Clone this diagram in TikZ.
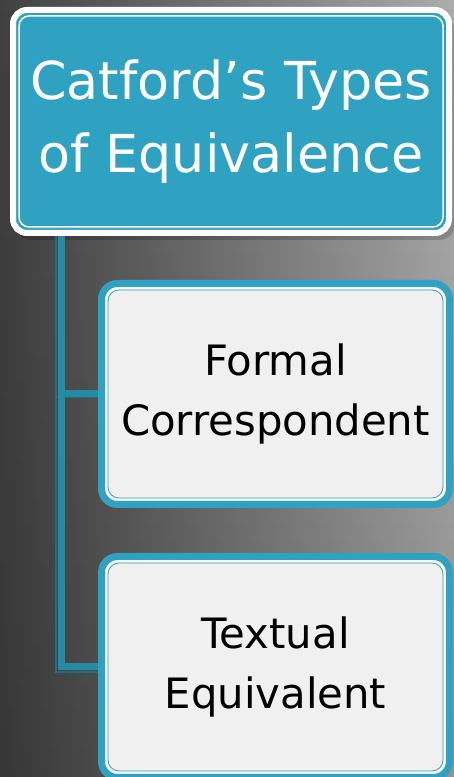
\documentclass[tikz,border=0pt]{standalone}
\usepackage{fontspec}
\setmainfont{DejaVu Sans}
\usetikzlibrary{fadings,backgrounds}
\definecolor{teal1}{RGB}{46,162,192}
\definecolor{tealdark}{RGB}{30,110,130}
\definecolor{boxfill}{RGB}{240,240,240}
\definecolor{bgdark}{RGB}{64,64,64}
\definecolor{bglight}{RGB}{172,172,172}
\tikzset{
  x=1pt, y=1pt,
  topbox/.style={draw=white, line width=6pt, fill=teal1, rounded corners=14pt,
    minimum width=436pt, minimum height=223pt, inner sep=0pt, outer sep=0pt,
    align=center, text=white, font=\fontsize{52.3}{73}\selectfont},
  childbox/.style={draw=teal1, line width=7pt, fill=boxfill, rounded corners=16pt,
    minimum width=348pt, minimum height=221pt, inner sep=0pt, outer sep=0pt,
    align=center, text=black, font=\fontsize{41.8}{60}\selectfont},
  innerline/.style={draw=white, line width=1.5pt, rounded corners=10pt},
  thinteal/.style={draw=teal1, line width=0.8pt, rounded corners=11pt},
  conn/.style={draw=teal1!85!black, line width=7pt},
  connshadow/.style={draw=tealdark, line width=2pt},
}
\begin{document}
\begin{tikzpicture}
\useasboundingbox (0,0) rectangle (454,777);
\clip (0,0) rectangle (454,777);

% top box
\node[topbox] (top) at (231,655.5) {Catford’s Types\\of Equivalence};
\draw[innerline] ([xshift=6pt,yshift=-6pt]top.north west) rectangle ([xshift=-6pt,yshift=6pt]top.south east);

% child boxes
\node[childbox] (c1) at (275.5,383) {Formal\\Correspondent};
\draw[innerline, rounded corners=12pt] ([xshift=5pt,yshift=-5pt]c1.north west) rectangle ([xshift=-5pt,yshift=5pt]c1.south east);
\draw[thinteal] ([xshift=6.5pt,yshift=-6.5pt]c1.north west) rectangle ([xshift=-6.5pt,yshift=6.5pt]c1.south east);

\node[childbox] (c2) at (275.5,110) {Textual\\Equivalent};
\draw[innerline, rounded corners=12pt] ([xshift=5pt,yshift=-5pt]c2.north west) rectangle ([xshift=-5pt,yshift=5pt]c2.south east);
\draw[thinteal] ([xshift=6.5pt,yshift=-6.5pt]c2.north west) rectangle ([xshift=-6.5pt,yshift=6.5pt]c2.south east);

\coordinate (t0) at (61.5,549);
\coordinate (s0) at (56,549);
\coordinate (s1) at (56,379.5);
\coordinate (s2) at (56,105);

\begin{scope}[on background layer]
\shade[left color=bgdark, right color=bglight] (0,0) rectangle (454,777);
\fill[black, opacity=0.15, path fading=north] (0,0) rectangle (454,777);
% drop shadow of top box
\fill[black, opacity=0.18, rounded corners=16pt] ([xshift=2pt,yshift=-6pt]top.north west) rectangle ([xshift=6pt,yshift=-7pt]top.south east);
% connector shadows
\draw[connshadow] (s0) -- (s2) -- (s2 -| c2.west);
\draw[connshadow] (s1) -- (s1 -| c1.west);
% connectors
\draw[conn] (t0) |- (c1.west);
\draw[conn] (t0) |- (c2.west);
\end{scope}
\end{tikzpicture}
\end{document}
